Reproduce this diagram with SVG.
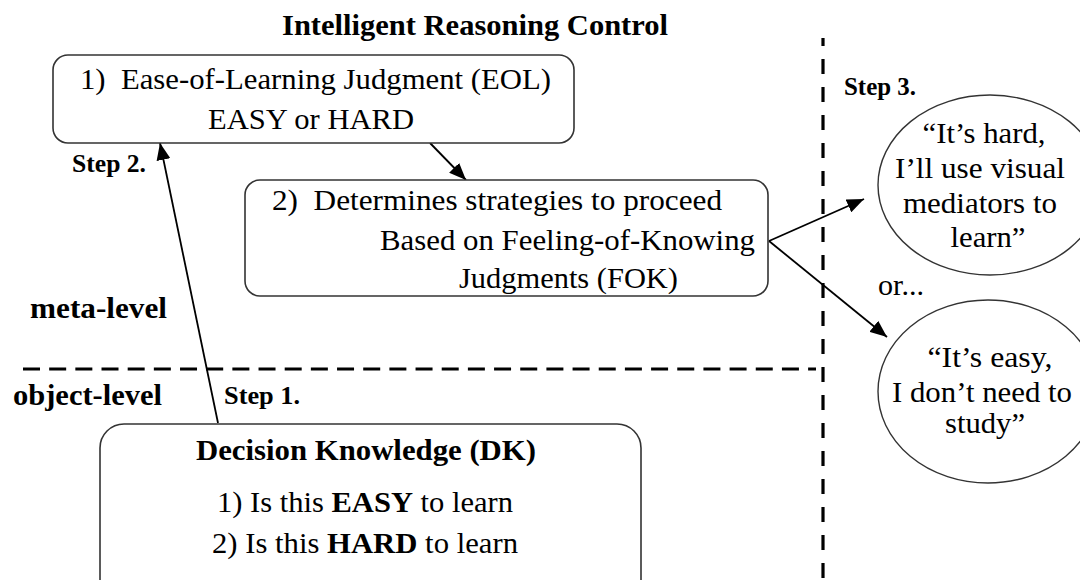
<svg xmlns="http://www.w3.org/2000/svg" width="1080" height="580" viewBox="0 0 1080 580">
<defs>
<style>
text{font-family:"Liberation Serif","Times New Roman",serif;fill:#000;}
.t{font-size:30px;}
.b{font-size:30px;font-weight:bold;}
.lb{font-size:25px;font-weight:bold;}
.box{fill:#fff;stroke:#333;stroke-width:1.6;}
.ell{fill:#fff;stroke:#333;stroke-width:1.4;}
.arr{stroke:#000;stroke-width:1.8;fill:none;marker-end:url(#ah);}
.dash{stroke:#000;stroke-width:3.2;fill:none;}
</style>
<marker id="ah" markerUnits="userSpaceOnUse" markerWidth="18" markerHeight="14" refX="17" refY="7" orient="auto">
<path d="M0,0 L17,7 L0,14 z" fill="#000"/>
</marker>
</defs>
<rect width="1080" height="580" fill="#fff"/>

<g id="dividers">
<line class="dash" x1="823" y1="38" x2="823" y2="580" stroke-dasharray="15 13" stroke-dashoffset="7"/>
<line class="dash" x1="23" y1="369" x2="816" y2="369" stroke-dasharray="17 9.17"/>
</g>

<g id="labels">
<text class="b" x="475" y="35" text-anchor="middle" textLength="386" lengthAdjust="spacingAndGlyphs">Intelligent Reasoning Control</text>
<text class="lb" x="72" y="172" textLength="74" lengthAdjust="spacingAndGlyphs">Step 2.</text>
<text class="b" x="30" y="318" textLength="137" lengthAdjust="spacingAndGlyphs">meta-level</text>
<text class="b" x="13" y="405" textLength="149" lengthAdjust="spacingAndGlyphs">object-level</text>
<text class="lb" x="224" y="404" textLength="76" lengthAdjust="spacingAndGlyphs">Step 1.</text>
<text class="lb" x="844" y="95" textLength="72" lengthAdjust="spacingAndGlyphs">Step 3.</text>
<text class="t" x="878" y="295" textLength="46" lengthAdjust="spacingAndGlyphs">or...</text>
</g>

<g id="connectors">
<line class="arr" x1="218" y1="423" x2="160" y2="143"/>
<line class="arr" x1="430" y1="143" x2="466" y2="180"/>
<line class="arr" x1="769" y1="241" x2="864" y2="199"/>
<line class="arr" x1="769" y1="241" x2="887" y2="337"/>
</g>

<g id="eol">
<rect class="box" x="53" y="55" width="521" height="88" rx="15"/>
<text class="t" x="80" y="89" xml:space="preserve" textLength="471" lengthAdjust="spacingAndGlyphs">1)  Ease-of-Learning Judgment (EOL)</text>
<text class="t" x="311" y="129" text-anchor="middle" textLength="206" lengthAdjust="spacingAndGlyphs">EASY or HARD</text>
</g>

<g id="strategies">
<rect class="box" x="245" y="180" width="523" height="116" rx="15"/>
<text class="t" x="272" y="210" xml:space="preserve" textLength="450" lengthAdjust="spacingAndGlyphs">2)  Determines strategies to proceed</text>
<text class="t" x="380" y="250" textLength="375" lengthAdjust="spacingAndGlyphs">Based on Feeling-of-Knowing</text>
<text class="t" x="459" y="288" textLength="219" lengthAdjust="spacingAndGlyphs">Judgments (FOK)</text>
</g>

<g id="dk">
<rect class="box" x="100" y="424" width="541" height="180" rx="24"/>
<text class="b" x="366" y="460" text-anchor="middle" textLength="340" lengthAdjust="spacingAndGlyphs">Decision Knowledge (DK)</text>
<text class="t" x="365" y="512" text-anchor="middle" textLength="296" lengthAdjust="spacingAndGlyphs">1) Is this <tspan font-weight="bold">EASY</tspan> to learn</text>
<text class="t" x="365" y="553" text-anchor="middle" textLength="306" lengthAdjust="spacingAndGlyphs">2) Is this <tspan font-weight="bold">HARD</tspan> to learn</text>
</g>

<g id="hard">
<ellipse class="ell" cx="990" cy="185" rx="112" ry="90"/>
<text class="t" x="984" y="143" text-anchor="middle" textLength="123" lengthAdjust="spacingAndGlyphs">“It’s hard,</text>
<text class="t" x="980" y="178" text-anchor="middle" textLength="170" lengthAdjust="spacingAndGlyphs">I’ll use visual</text>
<text class="t" x="980" y="213" text-anchor="middle" textLength="154" lengthAdjust="spacingAndGlyphs">mediators to</text>
<text class="t" x="988" y="247" text-anchor="middle" textLength="75" lengthAdjust="spacingAndGlyphs">learn”</text>
</g>

<g id="easy">
<ellipse class="ell" cx="988" cy="391.5" rx="110" ry="91.5"/>
<text class="t" x="990" y="367" text-anchor="middle" textLength="125" lengthAdjust="spacingAndGlyphs">“It’s easy,</text>
<text class="t" x="982" y="402" text-anchor="middle" textLength="180" lengthAdjust="spacingAndGlyphs">I don’t need to</text>
<text class="t" x="985" y="433" text-anchor="middle" textLength="80" lengthAdjust="spacingAndGlyphs">study”</text>
</g>
</svg>
